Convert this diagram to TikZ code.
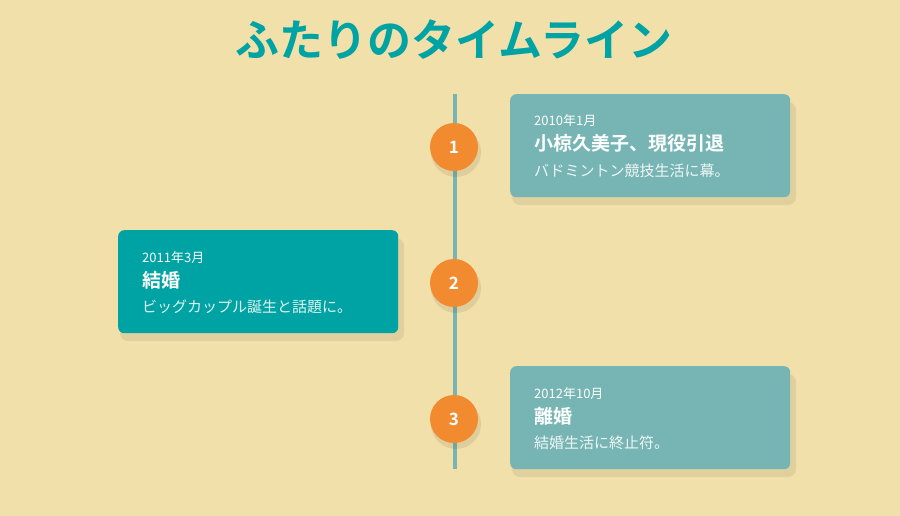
\documentclass[tikz,border=0pt]{standalone}
\usepackage{fontspec}
\newfontfamily\jp{Noto Sans CJK JP}
\newfontfamily\jpb{Noto Sans CJK JP Bold}
\definecolor{bg}{HTML}{F2E0AA}
\definecolor{teal}{HTML}{00A3A3}
\definecolor{lteal}{HTML}{76B5B4}
\definecolor{orng}{HTML}{F28A30}
\tikzset{
  card/.style={rounded corners=6pt,minimum width=280pt,minimum height=103pt,inner sep=0pt},
  shad/.style={fill=black,opacity=0.07,rounded corners=8pt},
  dot/.style={circle,fill=orng,minimum size=48pt,inner sep=0pt,text=white,font=\jpb\fontsize{17}{17}\selectfont},
  dt/.style={anchor=base west,text=white,font=\jp\fontsize{13}{13}\selectfont,inner sep=0pt},
  hd/.style={anchor=base west,text=white,font=\jpb\fontsize{19}{19}\selectfont,inner sep=0pt},
  ds/.style={anchor=base west,text=white,text opacity=0.88,font=\jp\fontsize{15}{15}\selectfont,inner sep=0pt},
}
\begin{document}
\begin{tikzpicture}[x=1pt,y=-1pt]
\fill[bg] (0,0) rectangle (900,516);
\useasboundingbox (0,0) rectangle (900,516);
\node[text=teal,font=\jpb\fontsize{44}{44}\selectfont] (title) at (454,40) {ふたりのタイムライン};
\coordinate (top) at (455,94);
\coordinate (bot) at (455,469);
\draw[lteal,line width=4pt] (top) -- (bot);
% shadows
\fill[shad] (512,102) rectangle (796,205);
\fill[shad] (120,238) rectangle (404,341);
\fill[shad] (512,374) rectangle (796,477);
\node[card,fill=lteal,anchor=north west] (c1) at (510,94) {};
\node[card,fill=teal,anchor=north west] (c2) at (118,230) {};
\node[card,fill=lteal,anchor=north west] (c3) at (510,366) {};
\fill[black,opacity=0.08] (456,152) circle (25);
\fill[black,opacity=0.08] (456,288) circle (25);
\fill[black,opacity=0.08] (456,424) circle (25);
\node[dot] (n1) at (454,147) {1};
\node[dot] (n2) at (454,283) {2};
\node[dot] (n3) at (454,419) {3};
\node[dt] (d1) at (534,126) {2010年1月};
\node[hd] (h1) at (534,151) {小椋久美子、現役引退};
\node[ds] (s1) at (534,176) {バドミントン競技生活に幕。};
\node[dt] (d2) at (142,262) {2011年3月};
\node[hd] (h2) at (142,287) {結婚};
\node[ds] (s2) at (142,312) {ビッグカップル誕生と話題に。};
\node[dt] (d3) at (534,398) {2012年10月};
\node[hd] (h3) at (534,423) {離婚};
\node[ds] (s3) at (534,448) {結婚生活に終止符。};
\end{tikzpicture}
\end{document}
